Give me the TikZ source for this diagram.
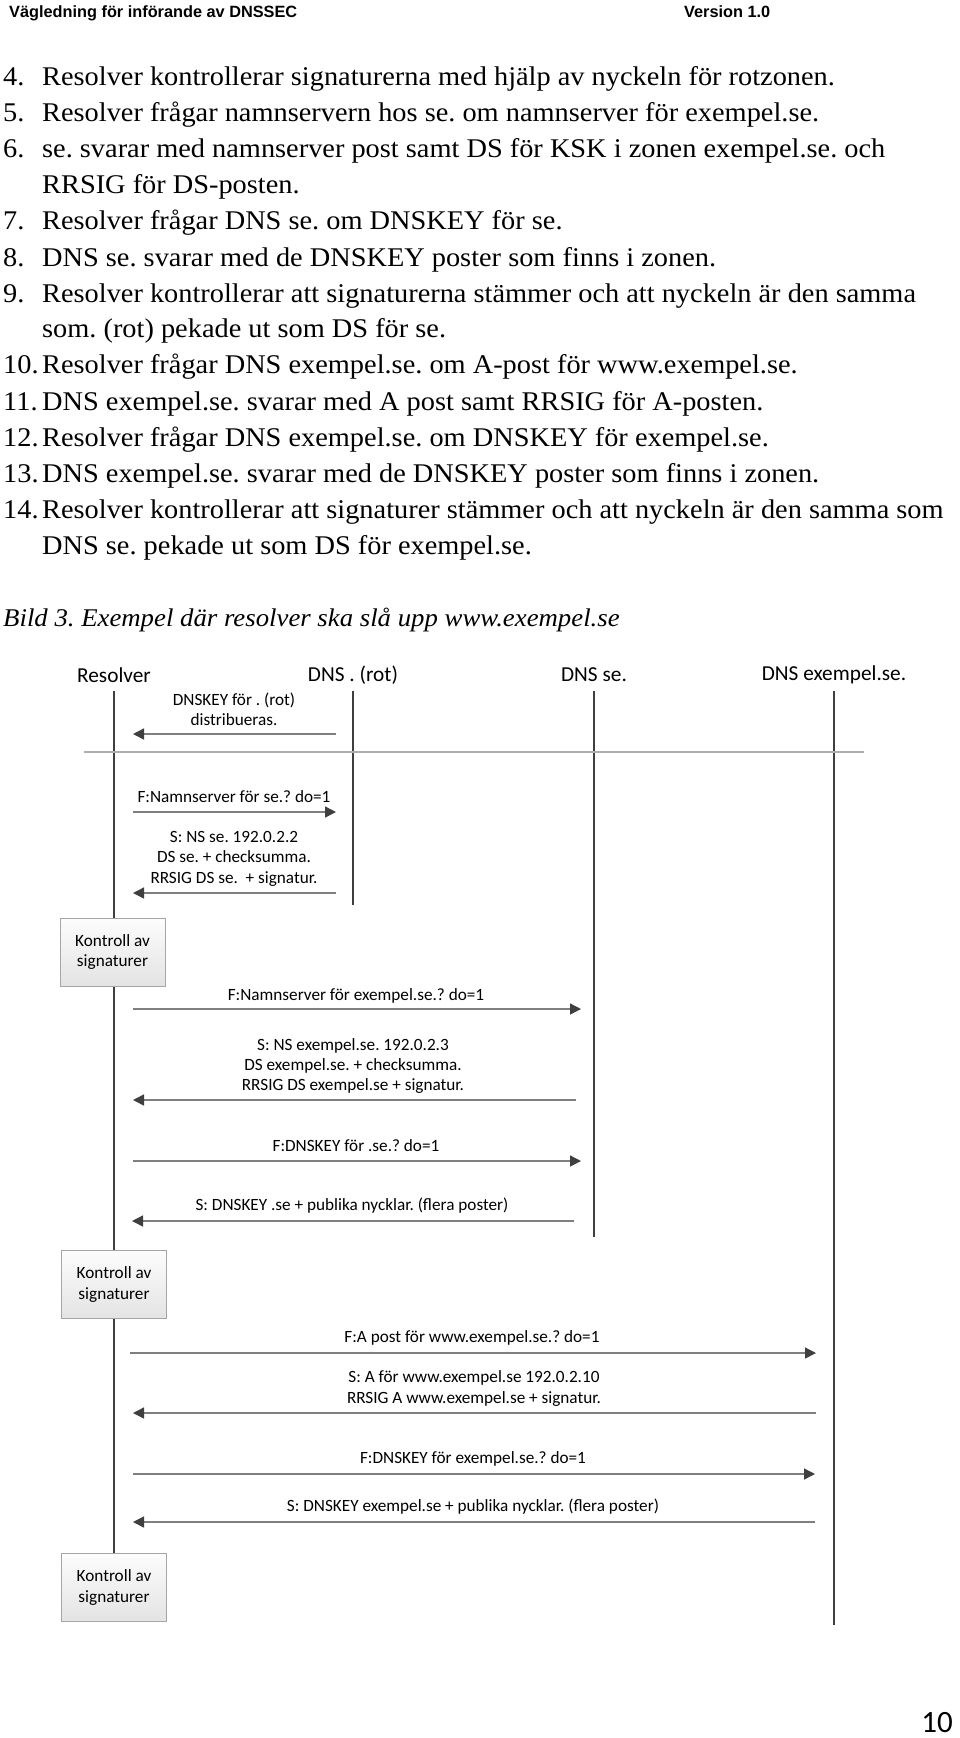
\documentclass[tikz,border=0pt]{standalone}
\usepackage{fontspec}
\setmainfont[FakeStretch=1.05]{Liberation Serif}
\newfontfamily\diagfont{Carlito}
\newfontfamily\headfont{Liberation Sans}
\usetikzlibrary{arrows.meta}
\definecolor{linedark}{HTML}{3F3F3F}
\definecolor{linegray}{HTML}{7F7F7F}
\tikzset{
  bodytext/.style={
    anchor=base west,
    inner sep=0pt,
    font=\frenchspacing\fontsize{27}{30}\selectfont
    },
  headtext/.style={
    anchor=base west,
    inner sep=0pt,
    font=\headfont\bfseries\fontsize{16.3}{20}\selectfont
    },
  lifehead/.style={
    minimum height=32pt,
    inner sep=0pt,
    font=\frenchspacing\diagfont\fontsize{21.3}{24}\selectfont
    },
  msglabel/.style={
    align=center,
    inner sep=0pt,
    font=\frenchspacing\diagfont\fontsize{17.2}{20.4}\selectfont
    },
  checkbox/.style={
    rectangle,
    minimum width=105pt,
    minimum height=68pt,
    align=center,
    draw=black!35,
    top color=black!1,
    bottom color=black!11,
    font=\frenchspacing\diagfont\fontsize{17.2}{20.4}\selectfont
    },
  lifeline/.style={draw=linedark,line width=1.3pt},
  msgarrow/.style={
    draw=linegray,
    line width=1.4pt,
    -{Triangle[length=11pt,width=11pt,color=linedark]}
    },
}
\begin{document}
\begin{tikzpicture}[x=1pt,y=-1pt]
\useasboundingbox (0,0) rectangle (960,1738);
% page text
\node (headl) [headtext] at (9,17) {Vägledning för införande av DNSSEC};
\node (headr) [headtext] at (684,17) {Version 1.0};
\node (n4) [bodytext] at (3,85) {4.};
\node (t4) [bodytext] at (42,85) {Resolver kontrollerar signaturerna med hjälp av nyckeln för rotzonen.};
\node (n5) [bodytext] at (3,121) {5.};
\node (t5) [bodytext] at (42,121) {Resolver frågar namnservern hos se. om namnserver för exempel.se.};
\node (n6) [bodytext] at (3,157) {6.};
\node (t6) [bodytext] at (42,157) {se. svarar med namnserver post samt DS för KSK i zonen exempel.se. och};
\node (t6b) [bodytext] at (42,193) {RRSIG för DS-posten.};
\node (n7) [bodytext] at (3,229) {7.};
\node (t7) [bodytext] at (42,229) {Resolver frågar DNS se. om DNSKEY för se.};
\node (n8) [bodytext] at (3,266) {8.};
\node (t8) [bodytext] at (42,266) {DNS se. svarar med de DNSKEY poster som finns i zonen.};
\node (n9) [bodytext] at (3,302) {9.};
\node (t9) [bodytext] at (42,302) {Resolver kontrollerar att signaturerna stämmer och att nyckeln är den samma};
\node (t9b) [bodytext] at (42,337) {som. (rot) pekade ut som DS för se.};
\node (n10) [bodytext] at (3,373) {10.};
\node (t10) [bodytext] at (42,373) {Resolver frågar DNS exempel.se. om A-post för www.exempel.se.};
\node (n11) [bodytext] at (3,410) {11.};
\node (t11) [bodytext] at (42,410) {DNS exempel.se. svarar med A post samt RRSIG för A-posten.};
\node (n12) [bodytext] at (3,446) {12.};
\node (t12) [bodytext] at (42,446) {Resolver frågar DNS exempel.se. om DNSKEY för exempel.se.};
\node (n13) [bodytext] at (3,482) {13.};
\node (t13) [bodytext] at (42,482) {DNS exempel.se. svarar med de DNSKEY poster som finns i zonen.};
\node (n14) [bodytext] at (3,518) {14.};
\node (t14) [bodytext] at (42,518) {Resolver kontrollerar att signaturer stämmer och att nyckeln är den samma som};
\node (t14b) [bodytext] at (42,554) {DNS se. pekade ut som DS för exempel.se.};
\node (caption) [bodytext,font=\frenchspacing\itshape\fontsize{25.5}{30}\selectfont] at (3,626) {Bild 3. Exempel där resolver ska slå upp www.exempel.se};
\node (pagenum) [anchor=base east,inner sep=0pt,font=\diagfont\fontsize{31}{34}\selectfont] at (953,1732) {10};
% lifelines
\node (resolver) [lifehead] at (114,675) {Resolver};
\node (root) [lifehead] at (353,675) {DNS . (rot)};
\node (se) [lifehead] at (594,675) {DNS se.};
\node (exempel) [lifehead] at (834,675) {DNS exempel.se.};
\coordinate (rootend) at (353,905);
\coordinate (seend) at (594,1237);
\coordinate (exempelend) at (834,1625);
\node (check3) [checkbox] at (114,1587.5) {Kontroll av\\signaturer};
\draw[lifeline] (resolver.south) -- (check3.north);
\draw[lifeline] (root.south) -- (rootend);
\draw[lifeline] (se.south) -- (seend);
\draw[lifeline] (exempel.south) -- (exempelend);
\node (check1) [checkbox] at (112.5,952) {Kontroll av\\signaturer};
\node (check2) [checkbox] at (114,1284.5) {Kontroll av\\signaturer};
\coordinate (sepl) at (84,752);
\coordinate (sepr) at (864,752);
\draw[draw=black!32,line width=1.7pt] (sepl) -- (sepr);
% messages
\node (m1) [msglabel] at (234,709) {DNSKEY för . (rot)\\distribueras.};
\coordinate (m1a) at (336,734);
\coordinate (m1b) at (133,734);
\draw[msgarrow] (m1a) -- (m1b);
\node (m2) [msglabel] at (234,797) {F:Namnserver för se.? do=1};
\coordinate (m2a) at (133,812);
\coordinate (m2b) at (336,812);
\draw[msgarrow] (m2a) -- (m2b);
\node (m3) [msglabel] at (234,858.5) {S: NS se. 192.0.2.2\\DS se. + checksumma.\\RRSIG DS se.~ + signatur.};
\coordinate (m3a) at (336,893);
\coordinate (m3b) at (133,893);
\draw[msgarrow] (m3a) -- (m3b);
\node (m4) [msglabel] at (356,996) {F:Namnserver för exempel.se.? do=1};
\coordinate (m4a) at (133,1009);
\coordinate (m4b) at (581,1009);
\draw[msgarrow] (m4a) -- (m4b);
\node (m5) [msglabel] at (353,1066) {S: NS exempel.se. 192.0.2.3\\DS exempel.se. + checksumma.\\RRSIG DS exempel.se + signatur.};
\coordinate (m5a) at (576,1100);
\coordinate (m5b) at (133,1100);
\draw[msgarrow] (m5a) -- (m5b);
\node (m6) [msglabel] at (356,1146) {F:DNSKEY för .se.? do=1};
\coordinate (m6a) at (133,1161);
\coordinate (m6b) at (581,1161);
\draw[msgarrow] (m6a) -- (m6b);
\node (m7) [msglabel] at (352,1206) {S: DNSKEY .se + publika nycklar. (flera poster)};
\coordinate (m7a) at (574,1221);
\coordinate (m7b) at (132,1221);
\draw[msgarrow] (m7a) -- (m7b);
\node (m8) [msglabel] at (472,1338) {F:A post för www.exempel.se.? do=1};
\coordinate (m8a) at (130,1353);
\coordinate (m8b) at (816,1353);
\draw[msgarrow] (m8a) -- (m8b);
\node (m9) [msglabel] at (474,1388.5) {S: A för www.exempel.se 192.0.2.10\\RRSIG A www.exempel.se + signatur.};
\coordinate (m9a) at (816,1413);
\coordinate (m9b) at (133,1413);
\draw[msgarrow] (m9a) -- (m9b);
\node (m10) [msglabel] at (473,1459) {F:DNSKEY för exempel.se.? do=1};
\coordinate (m10a) at (133,1474);
\coordinate (m10b) at (815,1474);
\draw[msgarrow] (m10a) -- (m10b);
\node (m11) [msglabel] at (473,1507) {S: DNSKEY exempel.se + publika nycklar. (flera poster)};
\coordinate (m11a) at (815,1522);
\coordinate (m11b) at (133,1522);
\draw[msgarrow] (m11a) -- (m11b);
\end{tikzpicture}
\end{document}
